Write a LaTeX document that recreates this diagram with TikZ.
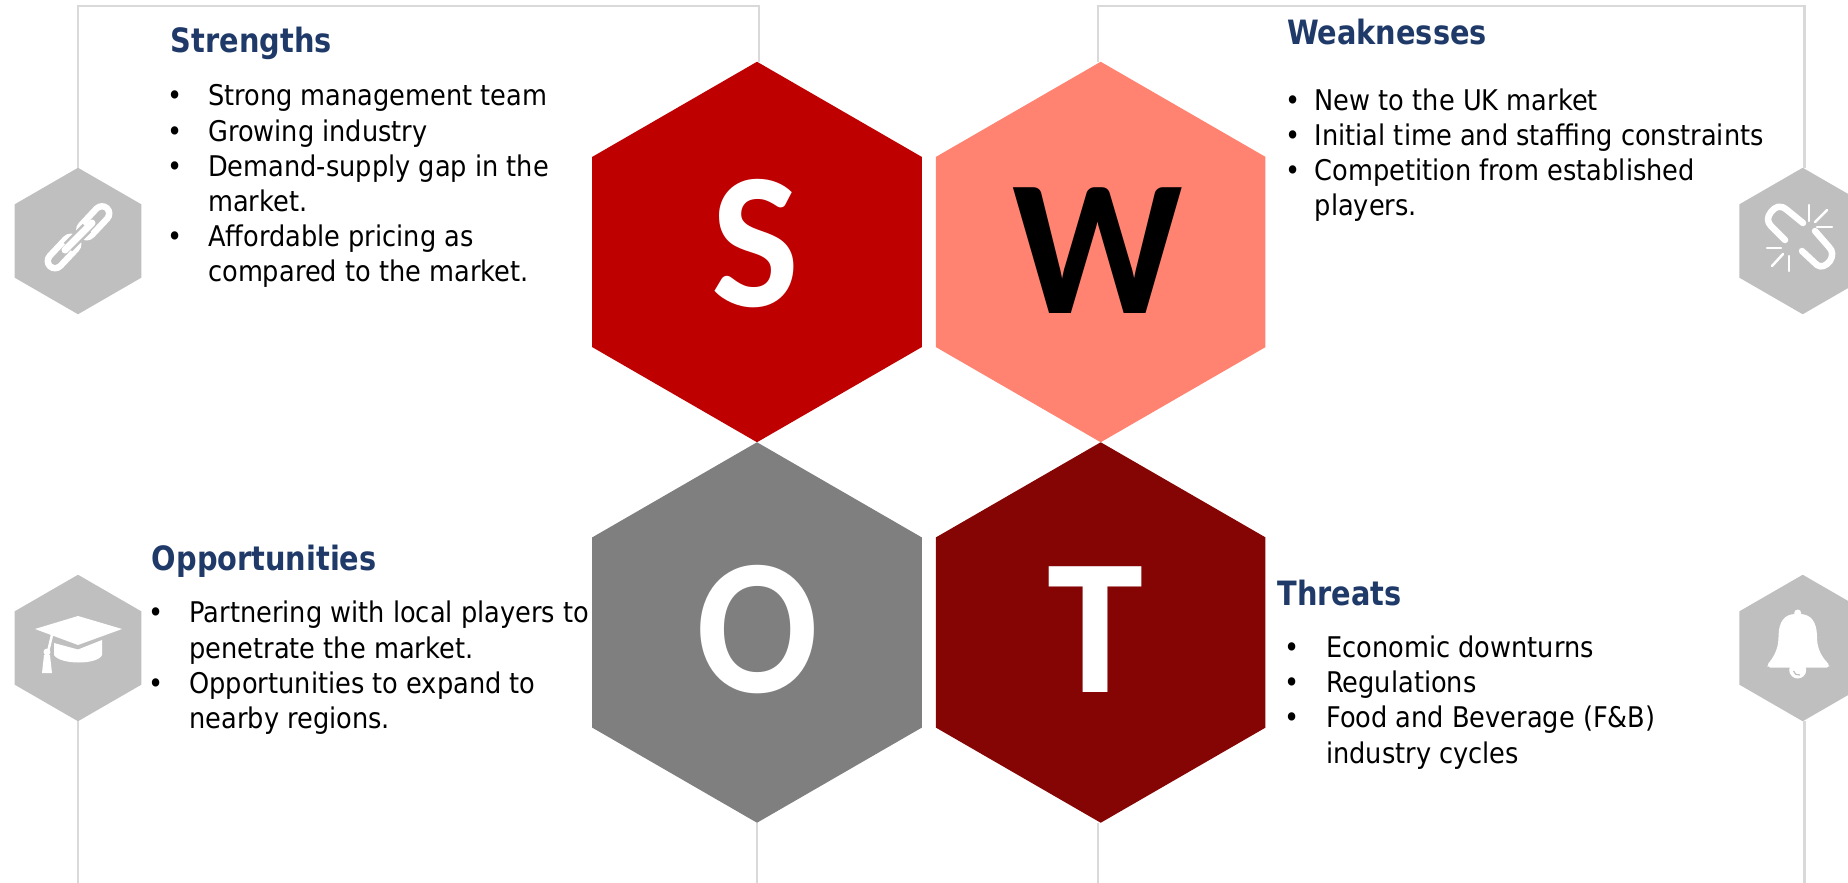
\documentclass[tikz,border=0pt]{standalone}
\usepackage{graphicx}
\usepackage{fontspec}
\usetikzlibrary{shapes.geometric}
\setmainfont{DejaVu Sans}[FakeStretch=0.9]
\newfontfamily\headfont{DejaVu Sans}[FakeStretch=0.86]
\newfontfamily\letterfont{Carlito}
\definecolor{sred}{HTML}{BF0000}
\definecolor{wsalmon}{HTML}{FF8370}
\definecolor{ogray}{HTML}{7F7F7F}
\definecolor{tred}{HTML}{850505}
\definecolor{framegray}{HTML}{D9D9D9}
\definecolor{icongray}{HTML}{BFBFBF}
\definecolor{headblue}{HTML}{1F3A68}
\newcommand{\bul}[1]{\llap{\makebox[0pt][c]{•}\hspace{#1pt}}}
\newcommand{\firstline}{\rule{0pt}{30pt}}
\tikzset{
  bighex/.style={regular polygon,regular polygon sides=6,shape border rotate=30,minimum size=380.5pt,inner sep=0pt,outer sep=0pt,fill=#1},
  iconhex/.style={regular polygon,regular polygon sides=6,shape border rotate=30,minimum size=146.5pt,inner sep=0pt,outer sep=0pt,fill=icongray},
  frameline/.style={draw=framegray,line width=2.4pt},
  bigletter/.style={font=\fontsize{194}{194}\selectfont\letterfont\bfseries,anchor=base,inner sep=0pt,text=#1},
  headtext/.style={font=\fontsize{33.5}{40}\selectfont\headfont\bfseries,text=headblue,anchor=base west,inner sep=0pt},
  bodytext/.style={font=\fontsize{28.5}{35.2}\selectfont,text=black,anchor=north west,inner sep=0pt,align=left},
  iconwhite/.style={draw=white,line cap=round,line join=round},
}
\begin{document}
\begin{tikzpicture}[x=1pt,y=-1pt]
\useasboundingbox (0,0) rectangle (1848,883);
\coordinate (bot) at (0,885);
% hexagons
\node[iconhex] (icS) at (78,241) {};
\node[iconhex] (icW) at (1802.7,241) {};
\node[iconhex] (icO) at (78,648) {};
\node[iconhex] (icT) at (1802.7,648) {};
\node[bighex=sred] (hexS) at (757,252) {};
\node[bighex=wsalmon] (hexW) at (1100.7,252) {};
\node[bighex=ogray] (hexO) at (757,632.5) {};
\node[bighex=tred] (hexT) at (1100.7,632.5) {};
% frame lines
\draw[frameline] ([xshift=1.8pt]hexS.corner 1) -- ++(0,-55.5) -| (icS.corner 1);
\draw[frameline] ([xshift=-2.5pt]hexW.corner 1) -- ++(0,-55.5) -| ([xshift=1.9pt]icW.corner 1);
\draw[frameline] (icO.corner 4) -- (icO.corner 4 |- bot);
\draw[frameline] (hexO.corner 4) -- (hexO.corner 4 |- bot);
\draw[frameline] ([xshift=-3pt]hexT.corner 4) -- ([xshift=-3pt]hexT.corner 4 |- bot);
\draw[frameline] ([xshift=1.9pt]icT.corner 4) -- ([xshift=1.9pt]icT.corner 4 |- bot);
% letters
\node[bigletter=white] (letS) at (755.5,306) {\scalebox{0.96}[1]{S}};
\node[bigletter=black] (letW) at (1097.5,313) {\scalebox{0.97}[1]{W}};
\node[bigletter=white] (letO) at (757.5,692) {\scalebox{0.93}[1]{O}};
\node[bigletter=white] (letT) at (1096,692) {T};
% headings
\node[headtext] (headS) at (170.7,52.7) {Strengths};
\node[headtext] (headW) at (1286.8,44.3) {Weaknesses};
\node[headtext] (headO) at (151.7,570.7) {Opportunities};
\node[headtext] (headT) at (1277.3,605) {Threats};
% bodies
\node[bodytext] (bodyS) at (208,75.7) {\firstline\bul{33}Strong management team\\\bul{33}Growing industry\\\bul{33}Demand-supply gap in the\\market.\\\bul{33}Affordable pricing as\\compared to the market.};
\node[bodytext] (bodyW) at (1314.6,80) {\firstline\bul{21.6}New to the UK market\\\bul{21.6}Initial time and staffing constraints\\\bul{21.6}Competition from established\\players.};
\node[bodytext] (bodyO) at (189.3,592.7) {\firstline\bul{33.6}Partnering with local players to\\penetrate the market.\\\bul{33.6}Opportunities to expand to\\nearby regions.};
\node[bodytext] (bodyT) at (1326,627.3) {\firstline\bul{34}Economic downturns\\\bul{34}Regulations\\\bul{34}Food and Beverage (F\&B)\\industry cycles};
% link icon
\draw[iconwhite,line width=21pt] (86.5,230) -- (102,213.5);
\draw[icongray,line cap=round,line width=8pt] (86.5,230) -- (102,213.5);
\draw[iconwhite,line width=21pt] (55,261) -- (71,244);
\draw[icongray,line cap=round,line width=8pt] (55,261) -- (71,244);
\draw[icongray,line width=12pt] (68,247) -- (87,228);
\draw[iconwhite,line width=7pt] (65,250) -- (92,223);
% broken link icon
\draw[iconwhite,line width=6.5pt] (1803,223) -- (1787,210) .. controls (1780,204) and (1775,207) .. (1771,212) .. controls (1767,217) and (1767,222) .. (1771,226) -- (1785,240);
\draw[iconwhite,line width=6.5pt] (1802,251) -- (1817,265) .. controls (1821,268) and (1826,266) .. (1830,261) .. controls (1833,256) and (1833,251) .. (1829,247) -- (1815,231);
\draw[iconwhite,line width=2.5pt] (1809,205) -- (1809,221);
\draw[iconwhite,line width=2.5pt] (1815,222) -- (1827,210);
\draw[iconwhite,line width=2.5pt] (1817,227) -- (1832,227);
\draw[iconwhite,line width=2.5pt] (1767,248) -- (1781,248);
\draw[iconwhite,line width=2.5pt] (1772,266) -- (1783,254);
\draw[iconwhite,line width=2.5pt] (1789,256) -- (1789,271);
% graduation cap icon
\fill[white] (35,629) -- (78,616) -- (122,629) -- (78,645) -- cycle;
\fill[white] (54,643) -- (78,649.5) -- (102,640) -- (102,655) .. controls (98,665) and (60,665) .. (54,655) -- cycle;
\draw[white,line width=2.5pt] (52,635) -- (48,652);
\fill[white] (47,652) circle (3.5);
\fill[white] (44,655) -- (50,655) -- (52,673) -- (42,673) -- cycle;
% bell icon
\fill[white] (1797.7,670) circle (8.5);
\draw[icongray,line width=1.2pt] (1793.5,671) .. controls (1794,674) and (1797,675.5) .. (1800,675);
\fill[white,rounded corners=2pt] (1797.7,614) .. controls (1784,614) and (1779,622) .. (1778.5,637) .. controls (1778,650) and (1773,658) .. (1767,665) -- (1768,667.5) -- (1829,667.5) -- (1829.5,665) .. controls (1822,657) and (1817.5,650) .. (1817,637) .. controls (1816.5,622) and (1811,614) .. (1797.7,614) -- cycle;
\fill[white] (1797.7,613) circle (3.5);
\end{tikzpicture}
\end{document}
